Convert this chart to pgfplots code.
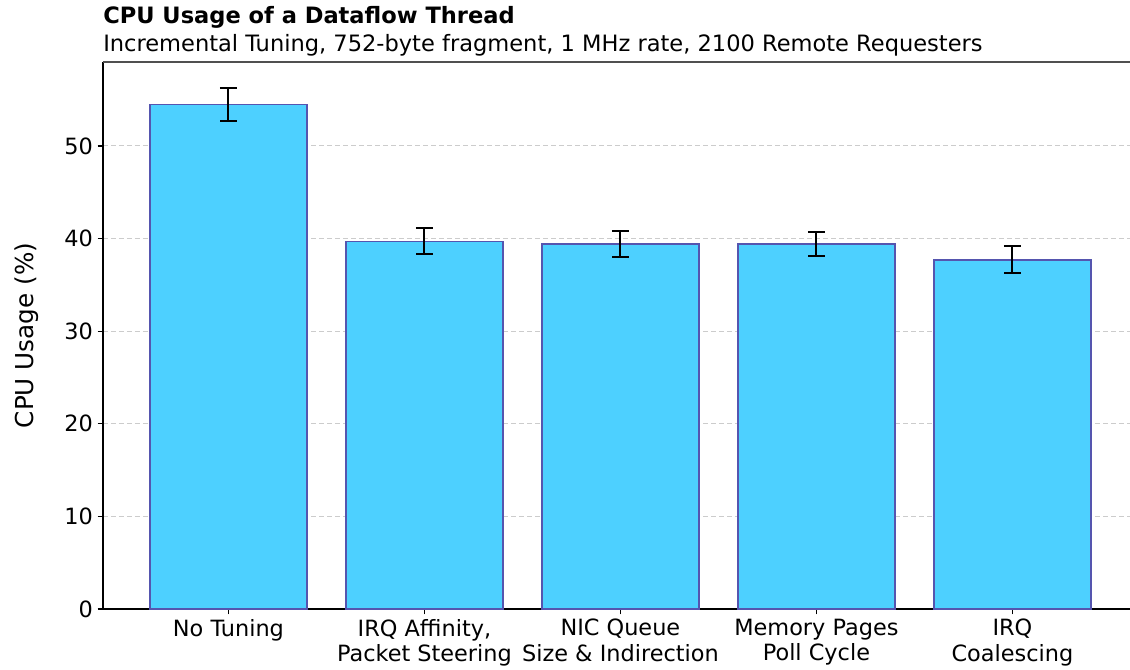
\documentclass[border=0pt]{standalone}
\usepackage{fontspec}
\setmainfont{DejaVu Sans}
\usepackage{pgfplots}
\usepackage{pgfplotstable}
\pgfplotsset{compat=1.18}

\definecolor{barfill}{RGB}{77,208,255}
\definecolor{baredge}{RGB}{85,85,175}
\definecolor{gridgray}{RGB}{204,204,204}
\definecolor{spinegray}{RGB}{80,80,80}

% mean CPU usage (%) and its spread, one row per tuning step
\pgfplotstableread{
x  y     e
0  54.5  1.8
1  39.7  1.4
2  39.4  1.4
3  39.4  1.3
4  37.7  1.45
}\cpudata

\begin{document}
\begin{tikzpicture}
\path[use as bounding box] (-77.25pt,-45pt) rectangle (770.25pt,456.75pt);
\begin{axis}[
  at={(0,0)}, anchor=south west,
  scale only axis,
  width=770.25pt, height=410.25pt,
  xmin=-0.64, xmax=4.6,
  ymin=0, ymax=59.07,
  ybar, bar width=0.8,
  xtick={0,1,2,3,4},
  xticklabels={No Tuning,{IRQ Affinity,\\Packet Steering},{NIC Queue\\Size \& Indirection},{Memory Pages\\Poll Cycle},{IRQ\\Coalescing}},
  ytick={0,10,20,30,40,50},
  axis x line*=bottom, axis y line*=left,
  axis line style={black, line width=1pt},
  tick align=outside,
  major tick length=4pt,
  tick style={black, line width=0.9pt},
  ymajorgrids,
  grid style={gridgray, line width=0.75pt, dash pattern=on 3.75pt off 2.25pt},
  /pgf/number format/assume math mode=true,
  tick label style={font=\fontsize{16.8}{19}\selectfont},
  x tick label style={align=center},
  ylabel={CPU Usage (\%)},
  ylabel style={font=\fontsize{18.5}{22}\selectfont, at={(rel axis cs:-0.0745,0.5)}, anchor=center, rotate=0},
  clip=false,
]
\addplot[
  fill=barfill, draw=baredge, line width=1.1pt,
  error bars/.cd, y dir=both, y explicit,
  error bar style={black, line width=1.5pt},
  error mark options={rotate=90, black, mark size=6.4pt, line width=1.5pt},
] table[x=x, y=y, y error=e] {\cpudata};
\draw[spinegray, line width=1.3pt] (rel axis cs:0,1) -- (rel axis cs:1,1);
\node[anchor=base west, inner sep=0pt, font=\fontsize{16.9}{20}\selectfont\bfseries] at ([yshift=28.5pt]rel axis cs:0,1) {CPU Usage of a Dataflow Thread};
\node[anchor=base west, inner sep=0pt, font=\fontsize{16.9}{20}\selectfont] at ([yshift=8pt]rel axis cs:0,1) {Incremental Tuning, 752-byte fragment, 1 MHz rate, 2100 Remote Requesters};
\end{axis}
\end{tikzpicture}
\end{document}
